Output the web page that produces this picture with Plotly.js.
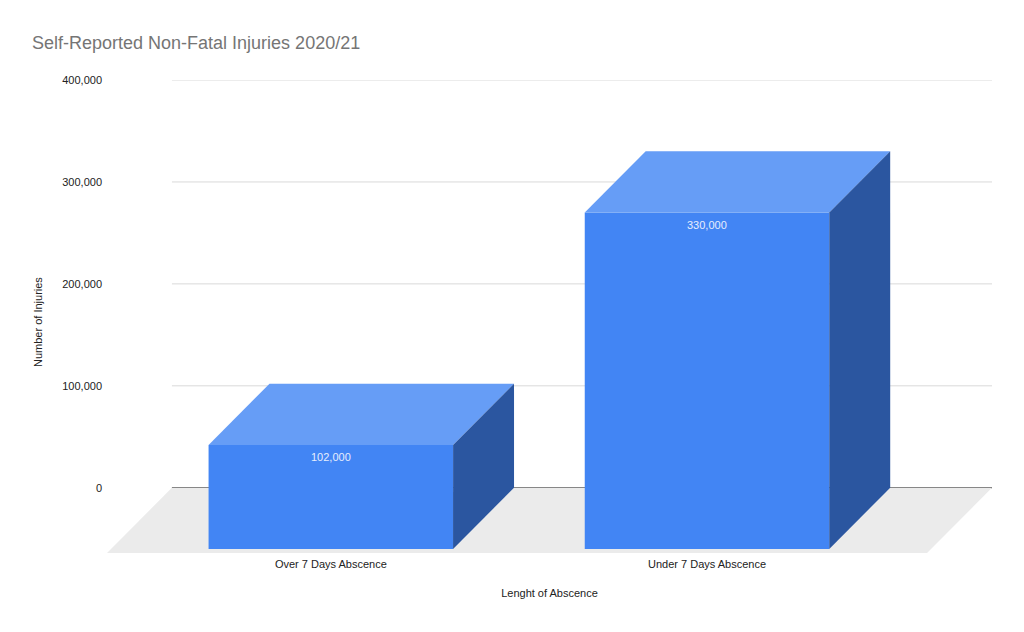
<!DOCTYPE html>
<html>
<head>
<meta charset="utf-8">
<script src="https://cdn.plot.ly/plotly-3.0.1.min.js"></script>
<style>
  html, body { margin: 0; padding: 0; background: #fff; }
  #chart { width: 1024px; height: 632px; }
</style>
</head>
<body>
<div id="chart"></div>
<script>
"use strict"
// data
const categories = ["Over 7 Days Abscence", "Under 7 Days Abscence"];
const injuries = [102000, 330000];
const labels = ["102,000", "330,000"];
const yTicks = [0, 100000, 200000, 300000, 400000];
const yTickText = ["0", "100,000", "200,000", "300,000", "400,000"];

// 3D look (style only)
const barHalf = 0.325;           // half width of a bar, in category units
const barDx = 0.162, barDy = 60000;     // bar depth
const floorDx = 0.1726, floorDy = 64000; // floor depth
const floorLeft = -0.595, floorRight = 1.585;

const FRONT = "#4285f4", TOP = "#669df6", SIDE = "#2b56a0";
const FONT = "Liberation Sans, Arial, sans-serif";

function poly(xs, ys, color) {
    return {
        x: xs.concat([xs[0]]), y: ys.concat([ys[0]]),
        type: "scatter", mode: "lines", fill: "toself",
        fillcolor: color, line: { width: 0, color: color },
        hoverinfo: "skip", showlegend: false
    };
}

let traces = [];

// floor
traces.push(poly(
    [floorLeft, floorLeft + floorDx, floorRight + floorDx, floorRight],
    [-floorDy, 0, 0, -floorDy], "#ebebeb"));

// grid lines on the back wall, drawn under the traces
let shapes = [];
for (let t of yTicks) {
    shapes.push({
        type: "line", xref: "x", yref: "y", layer: "below",
        x0: floorLeft + floorDx, x1: floorRight + floorDx, y0: t, y1: t,
        line: { color: t === 0 ? "#333333" : "#d9d9d9", width: 1 }
    });
}

// bars
let annotations = [];
for (let i = 0; i < categories.length; i++) {
    let c = i, v = injuries[i];
    let l = c - barHalf, r = c + barHalf;
    traces.push(poly([l, r, r, l], [-barDy, -barDy, v - barDy, v - barDy], FRONT));
    traces.push(poly([l, l + barDx, r + barDx, r], [v - barDy, v, v, v - barDy], TOP));
    traces.push(poly([r, r + barDx, r + barDx, r], [v - barDy, v, 0, -barDy], SIDE));
    annotations.push({
        x: c, y: v - barDy, xref: "x", yref: "y", text: labels[i],
        showarrow: false, yanchor: "top", yshift: -4,
        font: { family: FONT, size: 11, color: "#e6edfd" }
    });
}

annotations.push({
    text: "Number of Injuries", textangle: -90,
    xref: "paper", yref: "paper", x: (38 - 107) / 885, y: (553 - 322) / 473,
    xanchor: "center", yanchor: "middle", showarrow: false,
    font: { family: FONT, size: 11, color: "#222222" }
});

const layout = {
    width: 1024, height: 632,
    paper_bgcolor: "#ffffff", plot_bgcolor: "rgba(0,0,0,0)",
    margin: { l: 107, r: 32, t: 80, b: 79 },
    font: { family: FONT, size: 11, color: "#222222" },
    title: {
        text: "Self-Reported Non-Fatal Injuries 2020/21",
        x: 0, xref: "container", xanchor: "left", y: 1, yref: "container", yanchor: "top",
        pad: { t: 36, l: 32 },
        font: { family: FONT, size: 18, color: "#757575" }
    },
    xaxis: {
        range: [floorLeft, floorRight + floorDx],
        tickvals: categories.map((_, i) => i), ticktext: categories,
        showgrid: false, zeroline: false, showline: false, ticks: "",
        ticklabelstandoff: 3,
        tickfont: { size: 11, color: "#222222" },
        title: { text: "Lenght of Abscence", standoff: 20, font: { size: 11, color: "#222222" } },
        fixedrange: true
    },
    yaxis: {
        range: [-floorDy, 400000],
        tickvals: yTicks, ticktext: yTickText,
        showgrid: false, zeroline: false, showline: false, ticks: "",
        ticklabelstandoff: 4,
        tickfont: { size: 11, color: "#222222" },
        fixedrange: true
    },
    shapes: shapes,
    annotations: annotations,
    showlegend: false
};

Plotly.newPlot("chart", traces, layout, { displayModeBar: false, staticPlot: true });
</script>
</body>
</html>
